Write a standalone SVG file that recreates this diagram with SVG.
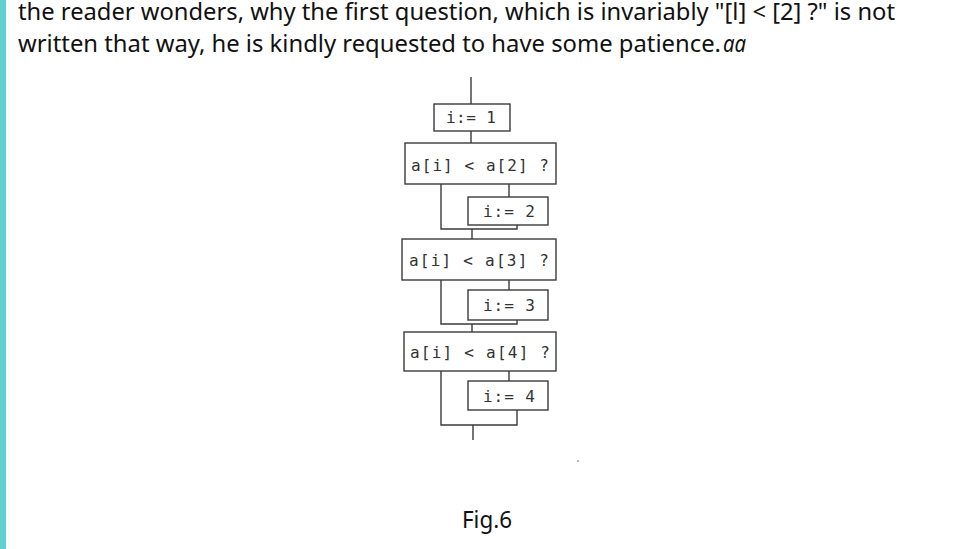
<svg xmlns="http://www.w3.org/2000/svg" width="966" height="549" viewBox="0 0 966 549">
<style>
.para{font-family:"Source Sans Pro","Noto Sans","Liberation Sans",sans-serif;font-size:23px;fill:#111}
.box{fill:#fff;stroke:#3a3a3a;stroke-width:1.4}
.lbl{font-family:"DejaVu Sans Mono","Liberation Mono",monospace;font-size:16px;fill:#333}
.ln{fill:none;stroke:#3a3a3a;stroke-width:1.4}
</style>
<rect x="0" y="0" width="966" height="549" fill="#fff"/>
<rect x="0" y="0" width="6" height="549" fill="#62cfd0"/>
<text class="para" x="18" y="20" textLength="877" lengthAdjust="spacingAndGlyphs">the reader wonders, why the first question, which is invariably "[l] &lt; [2] ?" is not</text>
<text class="para" x="18" y="52" textLength="703" lengthAdjust="spacingAndGlyphs">written that way, he is kindly requested to have some patience.</text>
<text class="para" x="723" y="52" font-style="italic" textLength="23" lengthAdjust="spacingAndGlyphs">aa</text>

<g id="connectors">
<path class="ln" d="M471,77 V104"/>
<path class="ln" d="M471,131 V143"/>
<path class="ln" d="M441,184 V229 H517 V225"/>
<path class="ln" d="M509,184 V197"/>
<path class="ln" d="M472,229 V239"/>
<path class="ln" d="M441,280 V324 H517 V320"/>
<path class="ln" d="M509,280 V290"/>
<path class="ln" d="M472,324 V332"/>
<path class="ln" d="M441,371 V425 H517 V410"/>
<path class="ln" d="M509,371 V381"/>
<path class="ln" d="M473,425 V440"/>
</g>

<g id="n1"><rect class="box" x="434" y="104" width="76" height="27"/><text class="lbl" x="446" y="123" textLength="50" lengthAdjust="spacing">i:= 1</text></g>
<g id="d1"><rect class="box" x="405" y="143" width="151" height="41"/><text class="lbl" x="411" y="171" textLength="138" lengthAdjust="spacing">a[i] &lt; a[2] ?</text></g>
<g id="n2"><rect class="box" x="468" y="197" width="80" height="28"/><text class="lbl" x="483" y="217" textLength="52" lengthAdjust="spacing">i:= 2</text></g>
<g id="d2"><rect class="box" x="402" y="239" width="154" height="41"/><text class="lbl" x="409" y="266" textLength="140" lengthAdjust="spacing">a[i] &lt; a[3] ?</text></g>
<g id="n3"><rect class="box" x="468" y="290" width="80" height="30"/><text class="lbl" x="483" y="311" textLength="52" lengthAdjust="spacing">i:= 3</text></g>
<g id="d3"><rect class="box" x="404" y="332" width="152" height="39"/><text class="lbl" x="410" y="358" textLength="140" lengthAdjust="spacing">a[i] &lt; a[4] ?</text></g>
<g id="n4"><rect class="box" x="468" y="381" width="80" height="29"/><text class="lbl" x="483" y="402" textLength="52" lengthAdjust="spacing">i:= 4</text></g>

<rect x="577" y="460" width="2" height="2" fill="#bbb"/>
<text class="para" x="462" y="528" textLength="50" lengthAdjust="spacingAndGlyphs">Fig.6</text>
</svg>
